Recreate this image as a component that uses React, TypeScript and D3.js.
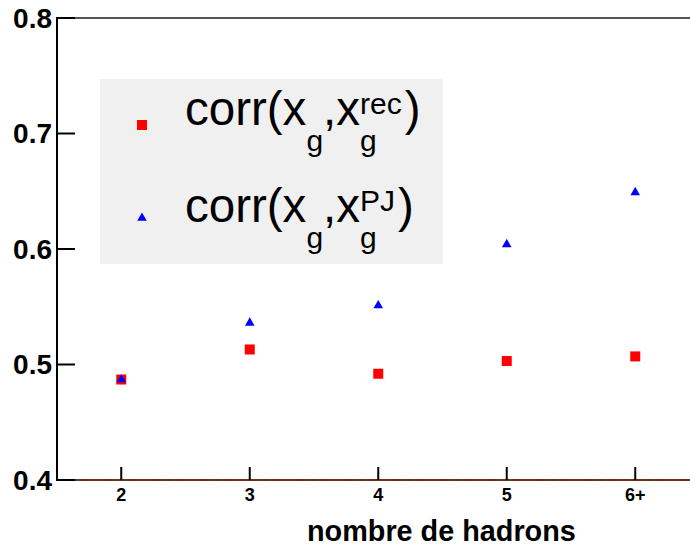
import React, { useEffect, useRef } from "react";
import * as d3 from "d3";

const categories = ["2", "3", "4", "5", "6+"];
const recValues = [0.487, 0.513, 0.492, 0.503, 0.507];
const pjValues = [0.487, 0.536, 0.551, 0.604, 0.649];
const yTicks = [0.4, 0.5, 0.6, 0.7, 0.8];
const xTitle = "nombre de hadrons";

const W = 690;
const H = 548;

export default function App() {
  const ref = useRef<SVGSVGElement>(null);

  useEffect(() => {
    const svg = d3.select(ref.current);
    svg.selectAll("*").remove();
    const font = "'Liberation Sans', Arial, Helvetica, sans-serif";

    const x = d3.scaleLinear().domain([-0.5, 5]).range([57, 57 + 5.5 * 128.5]);
    const y = d3.scaleLinear().domain([0.4, 0.8]).range([480, 18]);

    svg.append("rect").attr("width", W).attr("height", H).attr("fill", "#fff");

    // frame top
    svg.append("line")
      .attr("x1", x(-0.5)).attr("x2", W)
      .attr("y1", y(0.8)).attr("y2", y(0.8))
      .attr("stroke", "#555").attr("stroke-width", 2);

    // bottom axis line (dashed overlay)
    svg.append("line")
      .attr("x1", x(-0.5)).attr("x2", W)
      .attr("y1", y(0.4)).attr("y2", y(0.4))
      .attr("stroke", "#4a4a1a").attr("stroke-width", 2);
    svg.append("line")
      .attr("x1", x(-0.5)).attr("x2", W)
      .attr("y1", y(0.4)).attr("y2", y(0.4))
      .attr("stroke", "#7a2a10").attr("stroke-width", 2)
      .attr("stroke-dasharray", "8,4");

    // y axis
    svg.append("line")
      .attr("x1", x(-0.5)).attr("x2", x(-0.5))
      .attr("y1", y(0.8) - 1).attr("y2", y(0.4) + 1)
      .attr("stroke", "#000").attr("stroke-width", 2);

    yTicks.forEach((t) => {
      svg.append("line")
        .attr("x1", x(-0.5)).attr("x2", x(-0.5) + 18)
        .attr("y1", y(t)).attr("y2", y(t))
        .attr("stroke", "#000").attr("stroke-width", 2);
      svg.append("text")
        .attr("x", x(-0.5) - 5).attr("y", y(t))
        .attr("dy", "0.34em")
        .attr("text-anchor", "end")
        .attr("font-family", font).attr("font-weight", "bold")
        .attr("font-size", 28)
        .text(t.toFixed(1));
    });

    categories.forEach((c, i) => {
      svg.append("line")
        .attr("x1", x(i)).attr("x2", x(i))
        .attr("y1", y(0.4)).attr("y2", y(0.4) - 13)
        .attr("stroke", "#000").attr("stroke-width", 2);
      svg.append("text")
        .attr("x", x(i)).attr("y", 500.5)
        .attr("text-anchor", "middle")
        .attr("font-family", font).attr("font-weight", "bold")
        .attr("font-size", 18)
        .text(c);
    });

    svg.append("text")
      .attr("x", 307).attr("y", 541)
      .attr("font-family", font).attr("font-weight", "bold")
      .attr("font-size", 28.8)
      .text(xTitle);

    // legend
    const lg = svg.append("g");
    lg.append("rect")
      .attr("x", 100).attr("y", 79).attr("width", 343).attr("height", 185)
      .attr("fill", "#f0f0f0");

    const sq = 10;
    lg.append("rect")
      .attr("x", 142 - sq / 2).attr("y", 125 - sq / 2)
      .attr("width", sq).attr("height", sq).attr("fill", "#ff0000");
    lg.append("path")
      .attr("transform", `translate(142,218)`)
      .attr("d", d3.symbol().type(d3.symbolTriangle).size(40)())
      .attr("fill", "#0000ff");

    const mainSize = 47.5;
    const smallSize = 30;
    const drawLabel = (baseY: number, sup: string) => {
      const t = (txt: string, xx: number, yy: number, size: number) => {
        const el = lg.append("text")
          .attr("x", xx).attr("y", yy)
          .attr("font-family", font).attr("font-size", size)
          .attr("fill", "#000")
          .text(txt);
        return (el.node() as SVGTextElement).getComputedTextLength();
      };
      let cx = 185;
      cx += t("corr(x", cx, baseY, mainSize);
      cx += t("g", cx, baseY + 26, smallSize);
      cx += t(",x", cx, baseY, mainSize);
      const w1 = t(sup, cx, baseY - 11, smallSize);
      const w2 = t("g", cx, baseY + 26, smallSize);
      cx += Math.max(w1, w2) + 3;
      t(")", cx, baseY, mainSize);
    };
    drawLabel(125, "rec");
    drawLabel(222, "PJ");

    // data
    recValues.forEach((v, i) => {
      svg.append("rect")
        .attr("x", x(i) - sq / 2).attr("y", y(v) - sq / 2)
        .attr("width", sq).attr("height", sq).attr("fill", "#ff0000");
    });
    pjValues.forEach((v, i) => {
      svg.append("path")
        .attr("transform", `translate(${x(i)},${y(v)})`)
        .attr("d", d3.symbol().type(d3.symbolTriangle).size(40)())
        .attr("fill", "#0000ff");
    });
  }, []);

  return (
    <svg
      ref={ref}
      width={W}
      height={H}
      style={{ position: "absolute", left: 0, top: 0, display: "block" }}
    />
  );
}
